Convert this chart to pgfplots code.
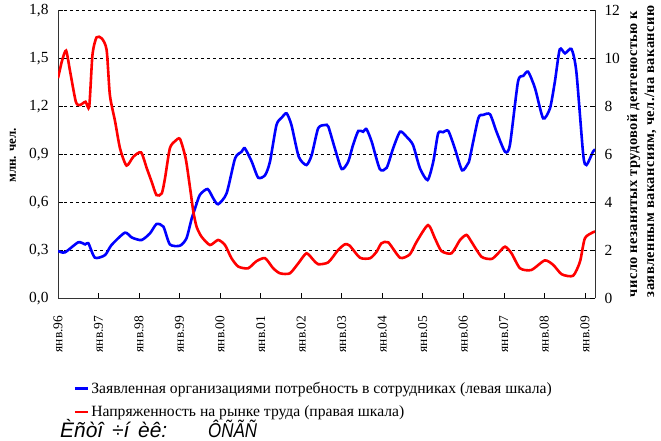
\documentclass[border=0pt]{standalone}
\usepackage{fontspec}
\setmainfont{Liberation Serif}
\newfontfamily\lblfont[LetterSpace=3]{Liberation Serif}
\newfontfamily\srcfont{Liberation Sans}
\newfontfamily\srcfontn[FakeStretch=0.85]{Liberation Sans}
\usepackage{pgfplots}
\pgfplotsset{compat=1.18}

\pgfplotstableread{
yr val
0.00 0.296
0.17 0.287
0.50 0.350
0.67 0.337
0.75 0.344
0.91 0.254
1.16 0.270
1.32 0.333
1.65 0.410
1.82 0.380
2.06 0.364
2.27 0.406
2.43 0.464
2.60 0.448
2.76 0.337
3.01 0.329
3.17 0.375
3.30 0.500
3.38 0.560
3.50 0.646
3.69 0.683
3.83 0.625
3.95 0.588
4.16 0.656
4.37 0.875
4.53 0.916
4.61 0.938
4.78 0.854
4.94 0.754
5.11 0.770
5.23 0.854
5.39 1.083
5.52 1.129
5.64 1.156
5.76 1.083
5.94 0.885
6.13 0.833
6.26 0.896
6.42 1.063
6.59 1.083
6.67 1.073
6.83 0.938
7.00 0.808
7.16 0.854
7.28 0.958
7.41 1.046
7.53 1.041
7.61 1.058
7.74 0.979
7.94 0.808
8.11 0.816
8.27 0.938
8.44 1.041
8.60 1.010
8.76 0.958
8.93 0.813
9.12 0.739
9.26 0.854
9.38 1.031
9.50 1.038
9.63 1.046
9.79 0.938
9.97 0.800
10.12 0.844
10.16 0.875
10.37 1.125
10.49 1.146
10.66 1.150
10.82 1.041
11.03 0.916
11.15 0.958
11.35 1.354
11.48 1.390
11.60 1.416
11.77 1.313
11.97 1.125
12.14 1.188
12.26 1.354
12.38 1.556
12.51 1.531
12.67 1.558
12.79 1.416
12.96 0.896
13.04 0.833
13.20 0.916
13.25 0.930
}\demand

\pgfplotstableread{
yr val
0.00 9.17
0.10 9.90
0.20 10.32
0.30 9.44
0.44 8.19
0.54 8.05
0.68 8.19
0.77 7.98
0.85 10.14
0.95 10.87
1.08 10.83
1.20 10.35
1.28 8.47
1.41 7.36
1.53 6.25
1.69 5.53
1.86 5.90
2.05 6.08
2.19 5.42
2.31 4.86
2.43 4.30
2.56 4.37
2.64 5.00
2.76 6.25
2.89 6.55
3.01 6.64
3.15 5.83
3.26 4.58
3.34 3.60
3.42 2.98
3.54 2.57
3.75 2.22
3.95 2.43
4.12 2.22
4.28 1.67
4.45 1.32
4.69 1.25
4.90 1.55
5.11 1.67
5.31 1.25
5.48 1.04
5.72 1.04
5.93 1.46
6.13 1.875
6.30 1.60
6.42 1.42
6.67 1.50
6.91 2.01
7.08 2.25
7.20 2.19
7.45 1.69
7.70 1.67
7.86 1.94
7.98 2.29
8.15 2.33
8.44 1.69
8.68 1.83
8.85 2.36
9.13 3.05
9.30 2.50
9.46 1.97
9.71 1.875
9.92 2.43
10.08 2.64
10.20 2.36
10.45 1.73
10.70 1.64
10.86 1.875
11.03 2.15
11.19 1.875
11.40 1.25
11.68 1.18
12.01 1.58
12.22 1.39
12.43 1.00
12.71 0.94
12.88 1.53
13.00 2.50
13.20 2.75
13.25 2.78
}\tension

\begin{document}
\begin{tikzpicture}
\pgfplotsset{
  common/.style={
    at={(0bp,0bp)}, anchor=south west,
    scale only axis, width=537bp, height=288bp,
    xmin=0, xmax=13.25,
    tick align=inside, major tick length=5bp,
    tick style={black, line width=0.6bp},
    axis line style={black!80, line width=0.8bp},
    ticklabel style={font=\fontsize{15.5}{17}\selectfont},
    /pgf/number format/assume math mode=true,
  }
}
\begin{axis}[common,
  ymin=0, ymax=1.8,
  axis x line*=bottom, axis y line*=left,
  xtick={0,1,...,13},
  xticklabels={янв.96,янв.97,янв.98,янв.99,янв.00,янв.01,янв.02,янв.03,янв.04,янв.05,янв.06,янв.07,янв.08,янв.09},
  xticklabel style={rotate=90, anchor=east, font=\fontsize{13.5}{16}\selectfont, xshift=-14bp},
  ytick={0,0.3,0.6,0.9,1.2,1.5,1.8},
  yticklabel style={/pgf/number format/fixed, /pgf/number format/fixed zerofill, /pgf/number format/precision=1, /pgf/number format/use comma, xshift=-6bp},
  ymajorgrids, grid style={dashed, black, line width=0.6bp},
  legend style={draw=none, fill=none, font=\fontsize{15.7}{18}\selectfont,
    at={(0.027,-0.28)}, anchor=north west, row sep=7bp, inner sep=1bp,
    cells={anchor=west}},
  legend image code/.code={\draw[#1] (0bp,0bp) -- (13bp,0bp);},
]
\addplot[blue, line width=2.6bp, smooth, tension=0.4] table[x=yr, y=val] {\demand};
\addlegendentry{Заявленная организациями потребность в сотрудниках (левая шкала)}
\addlegendimage{red, line width=2.6bp}
\addlegendentry{Напряженность на рынке труда (правая шкала)}
\end{axis}
\begin{axis}[common,
  ymin=0, ymax=12,
  axis x line=none, axis y line*=right,
  ytick={0,2,4,6,8,10,12},
  yticklabel style={xshift=6bp},
]
\addplot[red, line width=2.6bp, smooth, tension=0.4] table[x=yr, y=val] {\tension};
\end{axis}
\node[rotate=90, font=\bfseries\fontsize{13}{15}\selectfont] at (-45bp,143bp) {млн. чел.};
\node[rotate=90, anchor=north west, align=left, inner sep=0pt,
  font=\lblfont\bfseries\fontsize{14.5}{17}\selectfont] at (569bp,1bp)
  {число незанятых трудовой деятеностью к\\заявленным вакансиям, чел./на вакансию};
\node[anchor=base west, inner sep=0pt, font=\srcfont\itshape\fontsize{21}{23}\selectfont] at (2bp,-139bp) {Èñòî\hspace{3bp} ÷í\hspace{3bp} èê:};
\node[anchor=base west, inner sep=0pt, font=\srcfontn\itshape\fontsize{20}{23}\selectfont] at (150bp,-139bp) {ÔÑÃÑ};
\pgfresetboundingbox
\useasboundingbox (-58bp,-142.7bp) rectangle (603bp,298.3bp);
\end{tikzpicture}
\end{document}
